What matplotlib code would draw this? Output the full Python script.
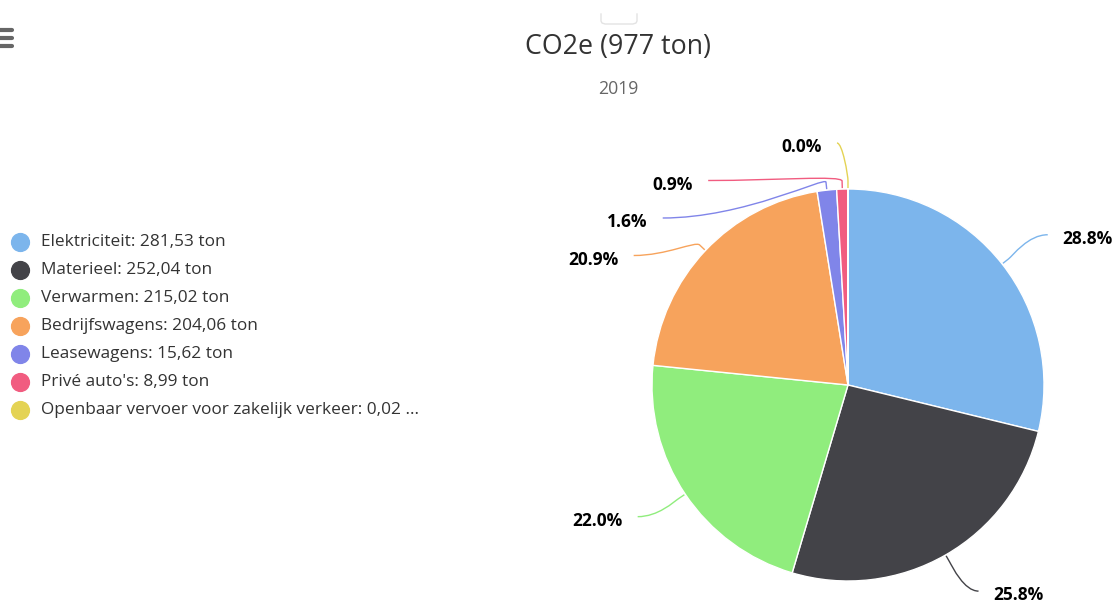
import numpy as np
import matplotlib
matplotlib.use("Agg")
import matplotlib.pyplot as plt
from matplotlib.path import Path
from matplotlib.patches import PathPatch

plt.rcParams['font.family'] = ['Open Sans', 'DejaVu Sans']

# data
names = ["Elektriciteit", "Materieel", "Verwarmen", "Bedrijfswagens",
         "Leasewagens", "Privé auto's", "Openbaar vervoer voor zakelijk verkeer"]
values = [281.53, 252.04, 215.02, 204.06, 15.62, 8.99, 0.02]
colors = ["#7cb5ec", "#434348", "#90ed7d", "#f7a35c", "#8085e9", "#f15c80", "#e4d354"]
title = "CO2e (977 ton)"
subtitle = "2019"

W, H = 1112, 603
fig = plt.figure(figsize=(W / 100, H / 100), dpi=100)
ax = fig.add_axes([0, 0, 1, 1])

# pie (image coords, y pointing down -> clockwise from top)
cx, cy, r = 848, 385, 196
ax.pie(values, colors=colors, startangle=-90, counterclock=True,
       center=(cx, cy), radius=r,
       wedgeprops=dict(edgecolor="white", linewidth=1))
ax.set_xlim(0, W)
ax.set_ylim(H, 0)
ax.set_aspect("equal")
ax.axis("off")

# data labels with soft connectors
vals = np.array(values)
frac = vals / vals.sum()
mids = np.cumsum(frac) - frac / 2
theta = np.radians(-90 + 360 * mids)
R = 240
labels = []
for i, t in enumerate(theta):
    side = 1 if np.cos(t) >= 0 else -1
    labels.append(dict(i=i, t=t, side=side, y=cy + R * np.sin(t)))

# push crowded labels apart (like highcharts does)
gap = 37.5
for side in (1, -1):
    grp = sorted([l for l in labels if l["side"] == side], key=lambda l: l["y"])
    for a, b in zip(grp, grp[1:]):
        if b["y"] < a["y"] + gap:
            b["y"] = a["y"] + gap

def radial(t, rr):
    return np.array([cx + rr * np.cos(t), cy + rr * np.sin(t)])

for l in labels:
    i, t, s, y = l["i"], l["t"], l["side"], l["y"]
    dy = y - cy
    x = cx + s * np.sqrt(max(R ** 2 - dy ** 2, 0))
    touch = radial(t, r + 1)
    brk = radial(t, r + 8)
    c2 = radial(t, r + 14)
    end = np.array([x + s * 11, y - 2])
    c1 = np.array([end[0] - s * 0.5 * abs(end[0] - brk[0]), end[1]])
    verts = [end, c1, c2, brk, touch]
    codes = [Path.MOVETO, Path.CURVE4, Path.CURVE4, Path.CURVE4, Path.LINETO]
    ax.add_patch(PathPatch(Path(verts, codes), facecolor="none",
                           edgecolor=colors[i], linewidth=1.0))
    pct = 100 * frac[i]
    ax.text(end[0] + s * 15, y + 2, f"{pct:.1f}%", ha="left" if s > 0 else "right",
            va="center", fontsize=12.5, fontweight="bold", color="black")

# titles
ax.text(618, 47, title, ha="center", va="center", fontsize=19.3, color="#333333")
ax.text(618, 89, subtitle, ha="center", va="center", fontsize=12.7, color="#666666")

# legend
for i, (n, v) in enumerate(zip(names, values)):
    y = 242 + 28 * i
    txt = f"{n}: {v:.2f}".replace(".", ",") + " ton"
    if len(txt) > 45:
        txt = txt[:44] + " ..."
    ax.scatter([20], [y], s=165, color=colors[i], zorder=3)
    ax.text(41, y, txt, ha="left", va="center", fontsize=12.4, color="#333333")

# export menu icon and small top box
for yy in (30, 37.7, 45.5):
    ax.plot([-2, 12], [yy, yy], color="#666666", linewidth=3, solid_capstyle="round")
ax.plot([601, 601, 602, 605, 633, 636, 637, 637],
        [14, 21, 23, 24, 24, 23, 21, 14], color="#e3e3e3", linewidth=1)

fig.savefig("out.png", dpi=100)
